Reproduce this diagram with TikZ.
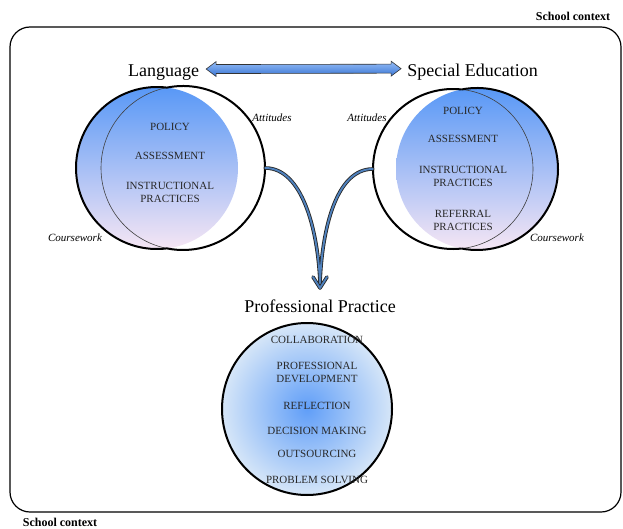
\documentclass[tikz,border=0pt]{standalone}
\usepackage{fontspec}
\setmainfont{Liberation Serif}
\usetikzlibrary{calc}
\definecolor{gtop}{RGB}{88,152,246}
\definecolor{gmid}{RGB}{140,188,244}
\definecolor{gbot}{RGB}{246,230,244}
\definecolor{pin}{RGB}{96,158,248}
\definecolor{pout}{RGB}{214,230,248}
\definecolor{arrowblue}{RGB}{79,129,189}
\definecolor{dtop}{RGB}{150,190,248}
\definecolor{dbot}{RGB}{55,115,210}
\definecolor{txtc}{RGB}{40,40,40}
\tikzset{
  headline/.style={font=\fontsize{18}{20}\selectfont, inner sep=1pt},
  item/.style={font=\fontsize{11}{12}\selectfont, text=txtc, inner sep=0pt},
  side/.style={font=\fontsize{11}{12}\selectfont\itshape, inner sep=0pt},
  ctx/.style={font=\fontsize{12}{13}\selectfont\bfseries, inner sep=0pt},
  thickline/.style={line width=2pt, black},
  thinline/.style={line width=0.6pt, black!75},
  ring/.style={circle, inner sep=0pt, draw=none},
  connouter/.style={line width=3.6pt, black!85, line cap=round, line join=round},
  conninner/.style={line width=1.9pt, arrowblue, line cap=round, line join=round},
}
\begin{document}
\begin{tikzpicture}[x=1pt,y=-1pt]
\useasboundingbox (0,0) rectangle (623,529);
% school context frame
\draw[line width=1.2pt, rounded corners=20pt] (10,27) rectangle (621,512);
\node[ctx] (ctxtop) at (573,16) {School context};
\node[ctx] (ctxbot) at (60,522) {School context};

% headings
\node[headline, anchor=base] (lang) at (163.5,77) {Language};
\node[headline, anchor=base] (sped) at (472.5,77) {Special Education};
\node[headline, anchor=base] (pptitle) at (320,312) {Professional Practice};

% double arrow between headings
\coordinate (dl) at ($(lang.east)+(6,-4)$);
\coordinate (dr) at ($(sped.west)+(-5,-4)$);
\shade[top color=dtop, bottom color=dbot, draw=black!80, line width=0.6pt]
  (dl) -- ($(dl)+(10,-7.5)$) -- ($(dl)+(10,-4.5)$) -- ($(dr)+(-10,-4.5)$) -- ($(dr)+(-10,-7.5)$)
  -- (dr) -- ($(dr)+(-10,7.5)$) -- ($(dr)+(-10,4.5)$) -- ($(dl)+(10,4.5)$) -- ($(dl)+(10,7.5)$) -- cycle;

% left group
\node[ring, minimum size=162pt] (langc) at (157,168) {};
\node[ring, minimum size=164pt] (attL) at (183,168) {};
\shade[top color=gtop, middle color=gmid, bottom color=gbot] (langc.center) circle[radius=81];
\draw[thinline] (attL.center) circle[radius=82];
\draw[thickline] ($(langc.center)+(83:81)$) arc[start angle=83, end angle=277, radius=81];
\draw[thickline] ($(attL.center)+(-101.3:82)$) arc[start angle=-101.3, end angle=101.3, radius=82];
\node[item] (lpol) at (170,127) {POLICY};
\node[item] (lass) at (170,156) {ASSESSMENT};
\node[item, align=center] (lins) at (170,192.5) {INSTRUCTIONAL\\[1pt]PRACTICES};
\node[side] (latt) at (272,118) {Attitudes};
\node[side] (lcw) at (75,238) {Coursework};

% right group
\node[ring, minimum size=162pt] (spedc) at (477,169) {};
\node[ring, minimum size=160pt] (attR) at (453,169) {};
\shade[top color=gtop, middle color=gmid, bottom color=gbot] (spedc.center) circle[radius=81];
\draw[thinline] (attR.center) circle[radius=80];
\draw[thickline] ($(spedc.center)+(-100.9:81)$) arc[start angle=-100.9, end angle=100.9, radius=81];
\draw[thickline] ($(attR.center)+(83.8:80)$) arc[start angle=83.8, end angle=276.2, radius=80];
\node[item] (rpol) at (463,111) {POLICY};
\node[item] (rass) at (463,139) {ASSESSMENT};
\node[item, align=center] (rins) at (463,176) {INSTRUCTIONAL\\[1pt]PRACTICES};
\node[item, align=center] (rref) at (463,220) {REFERRAL\\[1pt]PRACTICES};
\node[side] (ratt) at (367,118) {Attitudes};
\node[side] (rcw) at (557,238) {Coursework};

% converging arrows
\coordinate (tip) at (320,283);
\foreach \st in {connouter, conninner}{
  \draw[\st] (attL.east) .. controls ($(attL.east)+(37,0)$) and (318,230) .. (tip);
  \draw[\st] (attR.west) .. controls ($(attR.west)+(-37,0)$) and (322,230) .. (tip);
  \draw[\st] ($(tip)+(-7,-6)$) -- ($(tip)+(0,5)$) -- ($(tip)+(7,-6)$);
}

% professional practice circle
\coordinate (ppc) at (307,409);
\shade[inner color=pin, outer color=pout] (ppc) ellipse[x radius=85, y radius=86];
\draw[thickline] (ppc) ellipse[x radius=85, y radius=86];
\node[item] (p1) at (317,340) {COLLABORATION};
\node[item, align=center] (p2) at (317,372.5) {PROFESSIONAL\\[1pt]DEVELOPMENT};
\node[item] (p3) at (317,406) {REFLECTION};
\node[item] (p4) at (317,431) {DECISION MAKING};
\node[item] (p5) at (317,454) {OUTSOURCING};
\node[item] (p6) at (317,480) {PROBLEM SOLVING};
\end{tikzpicture}
\end{document}
